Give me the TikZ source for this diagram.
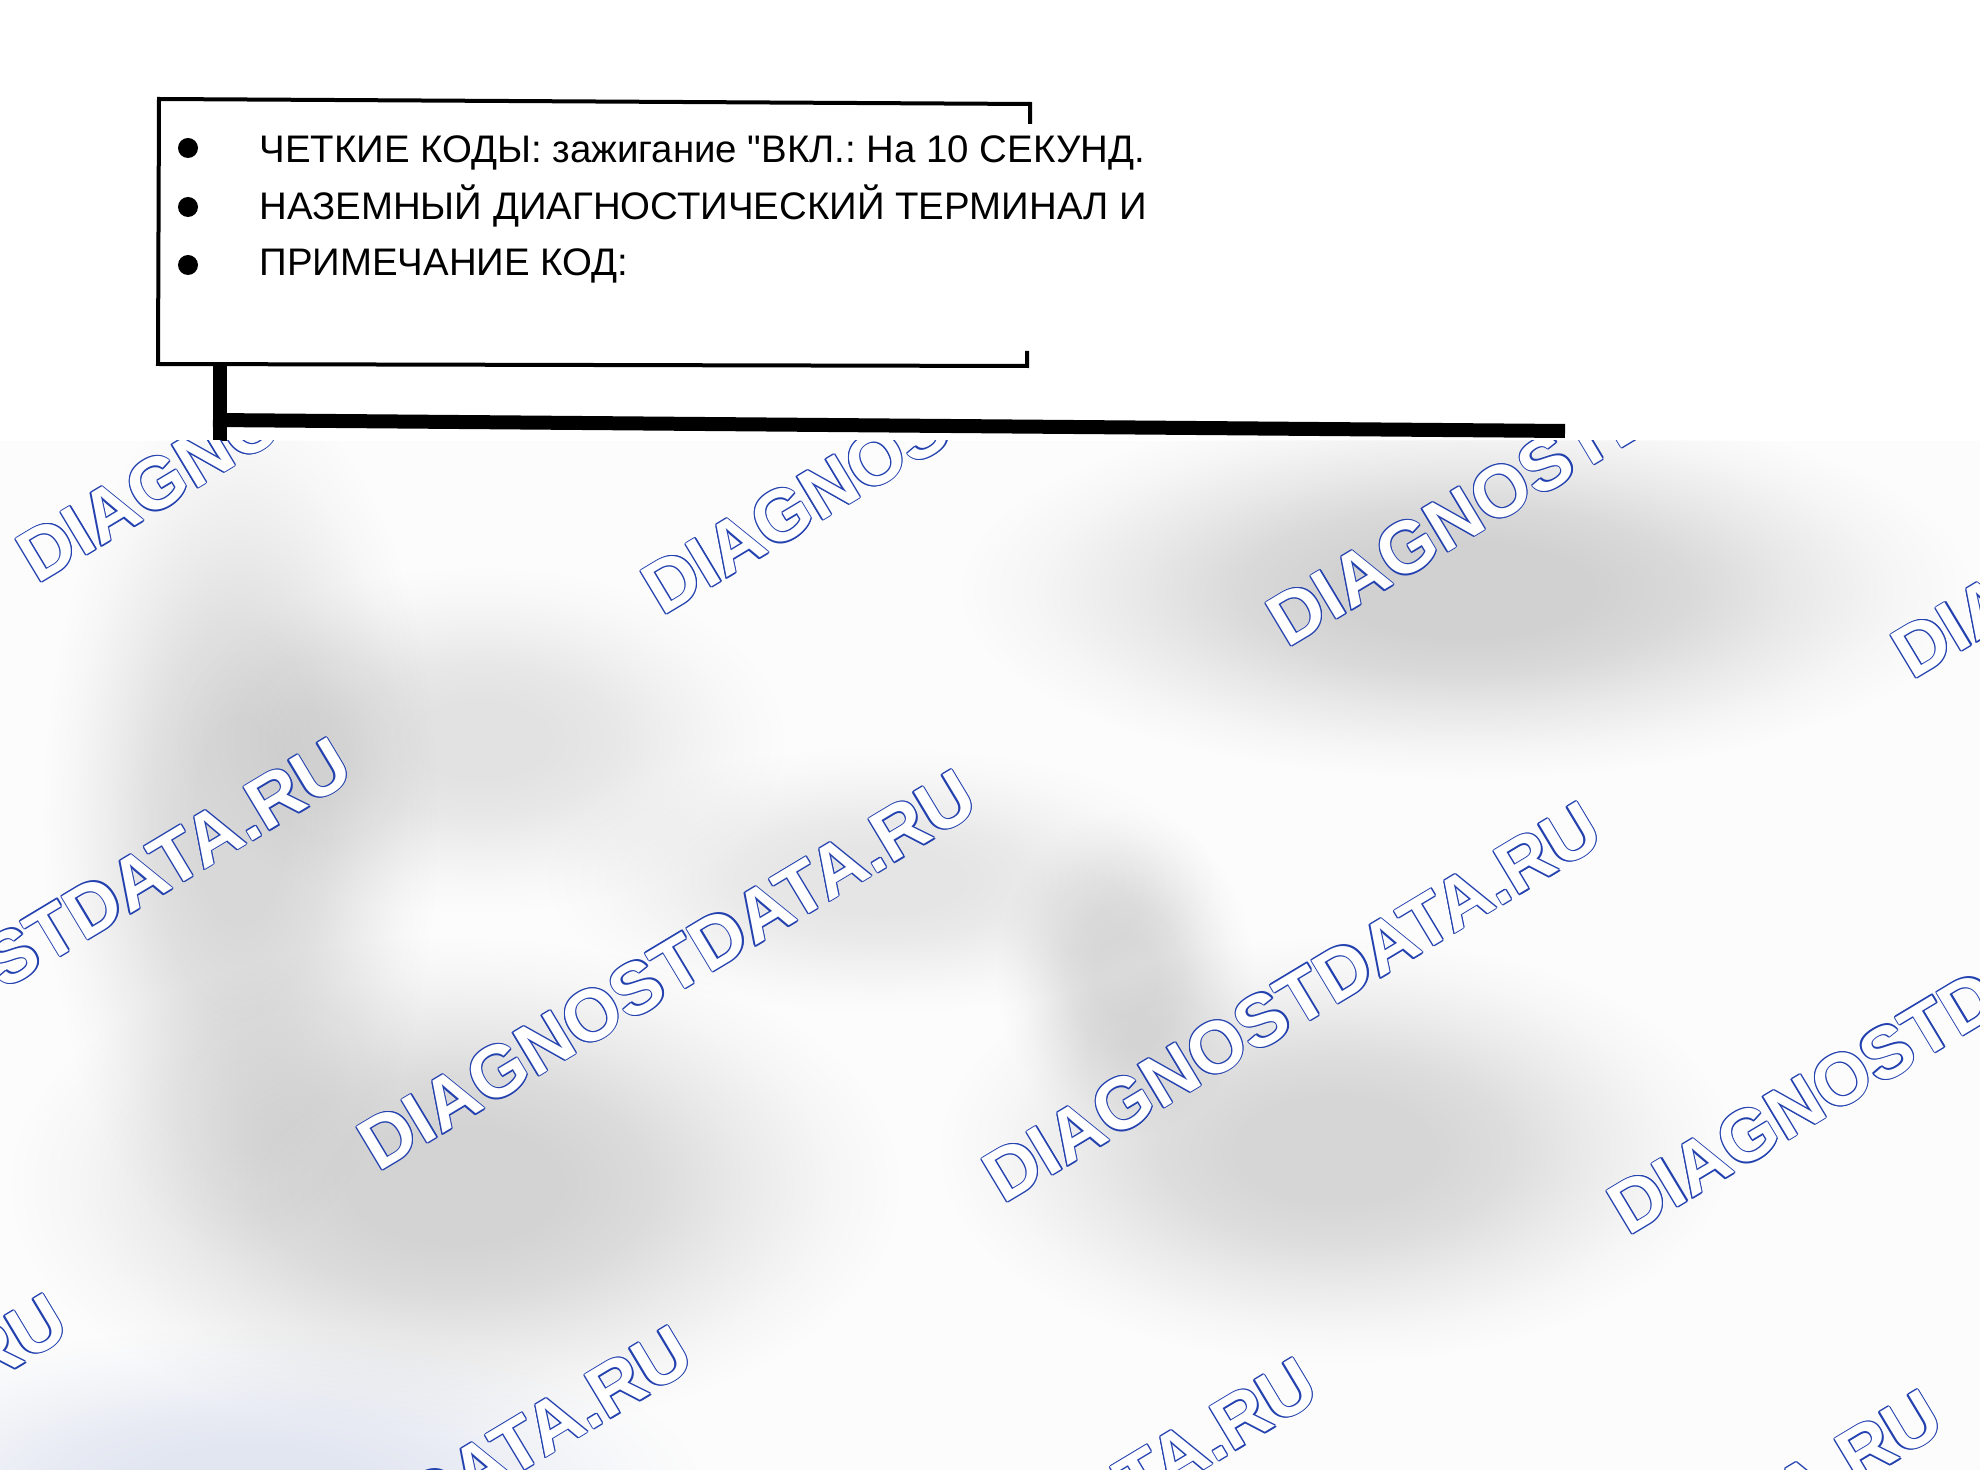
\documentclass[tikz,border=0pt]{standalone}
\usepackage{fontspec}
\setmainfont[Ligatures=TeXOff]{Liberation Sans}
\newfontfamily\wmfont{Liberation Sans}
\frenchspacing
\colorlet{blobc}{black!10}
\pgfdeclareradialshading[blobc]{blobg}{\pgfpointorigin}{color(0bp)=(blobc); color(6bp)=(blobc); color(11bp)=(blobc!80!white); color(16bp)=(blobc!45!white); color(21bp)=(blobc!15!white); color(25bp)=(white); color(50bp)=(white)}
\definecolor{wmblue}{RGB}{35,65,175}
\definecolor{bluish}{RGB}{229,233,244}
\tikzset{
  txt/.style={inner sep=0pt, font=\fontsize{19.2}{22}\selectfont},
  bullet/.style={circle, fill=black, inner sep=0pt, minimum size=10pt},
  boxline/.style={line width=2pt, line join=miter},
  heavy/.style={line width=7pt, line cap=butt},
  blob/.style={shading=blobg, blend mode=multiply},
  wmark/.style={inner sep=0pt, rotate=31, font=\wmfont\bfseries\fontsize{36.5}{40}\selectfont}
}
\newcommand\softblob[4]{\colorlet{blobc}{#1}\shade[blob] #2 ellipse (#3 and #4);}
\begin{document}
\begin{tikzpicture}[x=0.5pt,y=-0.5pt]
\useasboundingbox (0,0) rectangle (1980,1470);
\fill[white] (0,0) rectangle (1980,1470);

% note box (right side open, short stubs)
\coordinate (trs) at (1030,124);
\coordinate (tr) at (1030,104);
\coordinate (tl) at (159,99);
\coordinate (bl) at (158,364);
\coordinate (br) at (1027,366);
\coordinate (brs) at (1027,351);
\draw[boxline] (trs) -- (tr) -- (tl) -- (bl) -- (br) -- (brs);

% bullets and text
\node[bullet] (b1) at (188,148) {};
\node[bullet] (b2) at (188,207) {};
\node[bullet] (b3) at (188,265) {};
\node[txt, anchor=base west] (l1) at (259,163) {ЧЕТКИЕ КОДЫ: зажигание "ВКЛ.: На 10 СЕКУНД.};
\node[txt, anchor=base west] (l2) at (259,220) {НАЗЕМНЫЙ ДИАГНОСТИЧЕСКИЙ ТЕРМИНАЛ И};
\node[txt, anchor=base west] (l3) at (259,276) {ПРИМЕЧАНИЕ КОД:};

% connectors
\coordinate (stemtop) at (220,364);
\coordinate (stembot) at (220,446);
\coordinate (busL) at (213,420);
\coordinate (busR) at (1565,431);
\draw[heavy] (stemtop) -- (stembot);
\draw[heavy] (busL) -- (busR);

% blurred lower region
\begin{scope}
\clip (0,441) rectangle (1980,1470);
\fill[black!1] (0,441) rectangle (1980,1470);
\softblob{bluish}{(250,1485)}{460}{160}
\softblob{black!14}{(240,820)}{200}{440}
\softblob{black!10}{(480,740)}{310}{175}
\softblob{black!17}{(1465,590)}{510}{190}
\softblob{black!9}{(880,880)}{340}{135}
\softblob{black!13}{(1125,975)}{130}{165}
\softblob{black!16}{(455,1185)}{450}{250}
\softblob{black!15}{(1335,1150)}{400}{215}

% watermark lattice (blue outline made of offset copies, white face)
\foreach \i/\j/\n in {-1/-1/a,0/-1/b,1/-1/c,2/-1/d,
                      -1/0/e,0/0/f,1/0/g,2/0/h,
                      -1/1/k,0/1/m,1/1/p,2/1/q}{
  \coordinate (wc\n) at (667+625*\i-284*\j, 970+32*\i+556*\j);
  \foreach \dx/\dy/\k in {0.65/0/1,-0.65/0/2,0/0.65/3,0/-0.65/4,
                          0.46/0.46/5,-0.46/0.46/6,0.46/-0.46/7,-0.46/-0.46/8}{
    \node[wmark, text=wmblue, xshift=\dx pt, yshift=\dy pt] (wm\n\k) at (wc\n) {DIAGNOSTDATA.RU};
  }
  \node[wmark, text=white] (wm\n) at (wc\n) {DIAGNOSTDATA.RU};
}
\end{scope}
\end{tikzpicture}
\end{document}
